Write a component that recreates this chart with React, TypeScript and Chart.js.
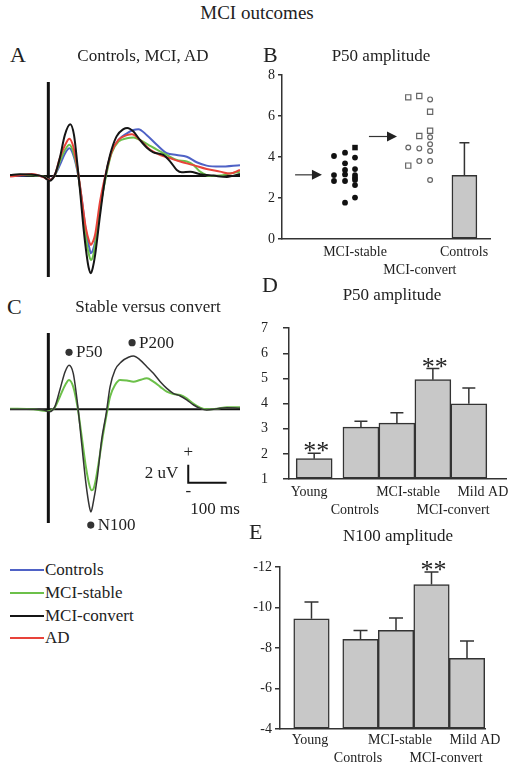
import React, { useEffect, useRef } from "react";
import { Chart, registerables } from "chart.js";
Chart.register(...registerables);

const SERIF = "'Liberation Serif', 'Times New Roman', serif";
const INK = "#222";
const AXIS = "#333";
const BAR_FILL = "#c8c8c8";
const BLUE = "#4f62c6";
const GREEN = "#6cc04a";
const BLACK = "#151515";
const RED = "#e8433a";

// ---------- Panel A: grand averages (time ms, amplitude uV) ----------
const aControlsT = [-100, -74, -39, -13, 3, 17, 30, 44, 55, 65, 76, 87, 98, 107, 111, 116, 122, 135, 151, 165, 183, 205, 222, 235, 257, 283, 309, 335, 361, 387, 413, 448, 500];
const aControlsV = [0.08, 0.03, 0.08, -0.08, -0.33, 0.08, 0.9, 1.9, 2.3, 1.75, 0.36, -1.86, -4.6, -6.0, -6.45, -6.2, -5.5, -2.7, 0.2, 2.0, 3.0, 3.55, 3.83, 3.9, 3.4, 2.6, 1.9, 1.75, 1.6, 1.14, 0.86, 0.78, 0.9];
const aStableT = [-100, -74, -39, -13, 3, 17, 30, 44, 55, 65, 76, 87, 98, 107, 111, 116, 122, 135, 151, 165, 183, 205, 222, 239, 261, 283, 309, 335, 361, 379, 396, 422, 448, 474, 500];
const aStableV = [0.05, 0.1, 0.05, -0.05, -0.35, 0.05, 1.2, 2.2, 2.6, 2.0, 0.5, -2.1, -5.2, -6.7, -7.0, -6.75, -5.75, -2.7, 0.08, 1.9, 2.86, 3.14, 3.2, 3.0, 2.6, 2.2, 1.75, 1.33, 1.2, 0.9, 0.36, 0.0, 0.03, 0.2, 0.36];
const aConvertT = [-100, -74, -39, -13, 3, 17, 30, 43, 57, 67, 76, 83, 91, 100, 105, 111, 116, 122, 135, 148, 161, 178, 196, 206, 222, 239, 257, 274, 300, 318, 335, 348, 370, 396, 431, 466, 500];
const aConvertV = [0.08, 0.14, 0.1, -0.05, -0.4, 0.1, 1.5, 3.4, 4.3, 3.4, 0.9, -1.3, -4.1, -6.6, -7.6, -8.1, -7.65, -6.6, -3.25, -0.2, 1.75, 3.3, 3.9, 4.0, 3.7, 3.0, 2.36, 1.97, 1.75, 1.2, 0.5, 0.3, 0.36, 0.14, 0.03, -0.08, 0.17];
const aADT = [-100, -74, -43, -13, 3, 17, 30, 44, 55, 65, 76, 87, 98, 107, 111, 116, 122, 135, 151, 165, 183, 205, 218, 239, 265, 292, 318, 344, 379, 413, 448, 474, 500];
const aADV = [-0.05, 0.05, 0.17, -0.1, -0.33, 0.1, 1.5, 2.6, 3.1, 2.45, 0.64, -1.86, -4.36, -5.5, -5.75, -5.5, -4.9, -2.1, 0.36, 2.0, 3.0, 3.4, 3.47, 3.0, 2.2, 1.75, 1.47, 1.2, 0.9, 0.58, 0.36, 0.2, 0.5];

// ---------- Panel C: stable vs convert ----------
const cConvertT = [-100, -39, -13, 3, 17, 30, 44, 54, 65, 76, 87, 98, 107, 111, 117, 128, 139, 151, 161, 174, 191, 209, 222, 239, 257, 274, 292, 309, 326, 344, 361, 379, 396, 413, 440, 466, 500];
const cConvertV = [0, 0, -0.07, -0.26, 0.3, 2.15, 4.2, 4.9, 4.0, 0.67, -3.8, -8.2, -10.8, -11.4, -10.4, -7.5, -3.4, -0.44, 2.5, 4.37, 5.3, 5.78, 5.93, 5.5, 4.74, 4.0, 3.07, 2.33, 1.78, 1.48, 1.04, 0.48, 0.11, -0.07, 0.07, 0.18, 0.11];
const cStableT = [-100, -39, -13, 3, 17, 30, 44, 54, 65, 76, 87, 98, 107, 113, 118, 122, 131, 142, 151, 161, 174, 187, 205, 222, 239, 257, 274, 292, 309, 326, 344, 361, 379, 396, 413, 440, 466, 500];
const cStableV = [0.07, 0, -0.15, -0.19, 0.22, 1.4, 2.7, 3.26, 2.5, 0.3, -3.0, -6.4, -8.4, -9.0, -8.8, -8.2, -6.0, -3.0, -0.8, 1.4, 2.7, 3.26, 3.2, 3.07, 3.26, 3.44, 3.07, 2.5, 1.96, 1.7, 1.6, 1.22, 0.6, 0.18, 0, 0.07, 0.22, 0.22];
const cPeakNames = ["P50", "P200", "N100"];
const cPeakT = [54, 218.5, 110.7];
const cPeakV = [6.33, 7.4, -12.86];
const scaleBarT = 365;
const scaleBarV = -8.16;
const scaleBarMs = 100;
const scaleBarUv = 2;

// ---------- Panel B: P50 amplitude, individual subjects ----------
const bStableColX = [2.5, 3.03, 3.51];
const bConvertColX = [6.07, 6.6, 7.12];
const bStableCircles = [[4.05, 3.12, 2.83], [4.21, 3.69, 3.37, 3.15, 2.83, 1.77], [3.97, 3.41, 3.12, 2.99, 2.88, 2.63, 2.02]];
const bStableSquares = [[], [], [4.46]];
const bConvertSquares = [[6.91, 3.58], [6.98, 5.02], [6.21, 5.28]];
const bConvertCircles = [[4.46], [4.42, 3.8], [6.81, 4.96, 4.62, 4.29, 3.8, 2.88]];
const bControlsX = 8.77;
const bControlsMean = 3.1;
const bControlsErr = 4.7;
const bLabels = ["MCI-stable", "MCI-convert", "Controls"];
const bLabelX = [3.51, 6.63, 8.75];
const bLabelRow = [0, 1, 0];
const bArrowStart = [0.63, 4.18];
const bArrowEnd = [1.92, 5.53];
const bArrowLevel = [3.13, 5.0];

// ---------- Panels D & E ----------
const groups = ["Young", "Controls", "MCI-stable", "MCI-convert", "Mild AD"];
const groupRow = [0, 1, 0, 1, 0];
const dSlot = [0.7, 2, 3, 4, 5];
const dLabelSlot = [0.56, 1.83, 3.31, 4.56, 5.39];
const dMean = [1.81, 3.06, 3.22, 4.95, 3.99];
const dErr = [2.02, 3.3, 3.63, 5.39, 4.62];
const dSig = [true, false, false, true, false];
const eSlot = [0.887, 2.268, 3.268, 4.268, 5.268];
const eLabelSlot = [0.845, 2.197, 3.38, 4.676, 5.493];
const eMean = [-9.45, -8.43, -8.87, -11.14, -7.49];
const eErr = [-10.27, -8.87, -9.49, -11.76, -8.35];
const eSig = [false, false, false, true, false];

const xy = (t: number[], v: number[]) => t.map((x, i) => ({ x, y: v[i] }));
const cols = (xs: number[], ys: number[][]) => ys.flatMap((c, i) => c.map((y) => ({ x: xs[i], y })));

function lineDs(t: number[], v: number[], color: string, width: number, order: number) {
  return {
    type: "line",
    data: xy(t, v),
    borderColor: color,
    borderWidth: width,
    pointRadius: 0,
    cubicInterpolationMode: "monotone",
    fill: false,
    order,
  };
}

function erpAxes(axisBottom: number | null) {
  return {
    id: "erpAxes",
    beforeDatasetsDraw(chart: any) {
      const { ctx, chartArea } = chart;
      const x = chart.scales.x;
      const y = chart.scales.y;
      ctx.save();
      ctx.strokeStyle = "#111";
      ctx.lineWidth = 2;
      ctx.beginPath();
      ctx.moveTo(x.getPixelForValue(x.min), y.getPixelForValue(0));
      ctx.lineTo(x.getPixelForValue(x.max), y.getPixelForValue(0));
      ctx.stroke();
      ctx.lineWidth = 3;
      ctx.beginPath();
      ctx.moveTo(x.getPixelForValue(0), chartArea.top);
      ctx.lineTo(x.getPixelForValue(0), axisBottom === null ? chartArea.bottom : y.getPixelForValue(axisBottom));
      ctx.stroke();
      ctx.restore();
    },
  };
}

const cAnnotations = {
  id: "cAnn",
  afterDatasetsDraw(chart: any) {
    const { ctx } = chart;
    const x = chart.scales.x;
    const y = chart.scales.y;
    ctx.save();
    ctx.font = `17px ${SERIF}`;
    ctx.fillStyle = INK;
    ctx.textBaseline = "middle";
    cPeakNames.forEach((name, i) => {
      const px = x.getPixelForValue(cPeakT[i]);
      const py = y.getPixelForValue(cPeakV[i]);
      ctx.beginPath();
      ctx.arc(px, py, 3.6, 0, Math.PI * 2);
      ctx.fillStyle = "#333";
      ctx.fill();
      ctx.fillStyle = INK;
      ctx.textAlign = "left";
      ctx.fillText(name, px + 7, py + 0.5);
    });
    const x0 = x.getPixelForValue(scaleBarT);
    const x1 = x.getPixelForValue(scaleBarT + scaleBarMs);
    const y0 = y.getPixelForValue(scaleBarV);
    const y1 = y.getPixelForValue(scaleBarV + scaleBarUv);
    ctx.strokeStyle = "#111";
    ctx.lineWidth = 2;
    ctx.beginPath();
    ctx.moveTo(x0, y1);
    ctx.lineTo(x0, y0);
    ctx.lineTo(x1, y0);
    ctx.stroke();
    ctx.textAlign = "center";
    ctx.fillText("+", x0, y1 - 12);
    ctx.fillText("-", x0, y0 + 9);
    ctx.textAlign = "right";
    ctx.fillText("2 uV", x0 - 10, (y0 + y1) / 2);
    ctx.textAlign = "left";
    ctx.fillText("100 ms", x0 + 2, y0 + 27);
    ctx.restore();
  },
};

const bArrows = {
  id: "bArrows",
  afterDatasetsDraw(chart: any) {
    const { ctx } = chart;
    const x = chart.scales.x;
    const y = chart.scales.y;
    ctx.save();
    ctx.strokeStyle = "#333";
    ctx.fillStyle = "#222";
    ctx.lineWidth = 1.2;
    bArrowStart.forEach((s, i) => {
      const xs = x.getPixelForValue(s);
      const xe = x.getPixelForValue(bArrowEnd[i]);
      const py = y.getPixelForValue(bArrowLevel[i]);
      ctx.beginPath();
      ctx.moveTo(xs, py);
      ctx.lineTo(xe - 8, py);
      ctx.stroke();
      ctx.beginPath();
      ctx.moveTo(xe, py);
      ctx.lineTo(xe - 10, py - 5);
      ctx.lineTo(xe - 10, py + 5);
      ctx.closePath();
      ctx.fill();
    });
    ctx.restore();
  },
};

function errorBars(id: string, tops: number[], sig: boolean[], capHalf: number) {
  return {
    id,
    afterDatasetsDraw(chart: any) {
      const { ctx } = chart;
      const ys = chart.scales.y;
      let meta: any = null;
      chart.data.datasets.forEach((d: any, i: number) => {
        if (d.type === "bar" || (!d.type && chart.config.type === "bar")) meta = chart.getDatasetMeta(i);
      });
      if (!meta) return;
      ctx.save();
      meta.data.forEach((bar: any, i: number) => {
        const bx = bar.x;
        const y0 = bar.y;
        const y1 = ys.getPixelForValue(tops[i]);
        ctx.strokeStyle = AXIS;
        ctx.lineWidth = 1.5;
        ctx.beginPath();
        ctx.moveTo(bx, y0);
        ctx.lineTo(bx, y1);
        ctx.moveTo(bx - capHalf, y1);
        ctx.lineTo(bx + capHalf, y1);
        ctx.stroke();
        if (sig[i]) {
          ctx.fillStyle = INK;
          ctx.font = `26px ${SERIF}`;
          ctx.textAlign = "center";
          ctx.textBaseline = "alphabetic";
          ctx.fillText("**", bx + 2, y1 + 6);
        }
      });
      ctx.restore();
    },
  };
}

const tickFont = { family: SERIF, size: 14, lineHeight: 1.3 };

function yAxis(min: number, max: number, step: number, width: number, tickLen: number, pad: number, reverse = false) {
  return {
    min,
    max,
    reverse,
    ticks: { stepSize: step, padding: pad, color: INK, font: tickFont },
    grid: { display: true, drawOnChartArea: false, drawTicks: true, tickLength: tickLen, color: AXIS, lineWidth: 1.5 },
    border: { display: true, color: AXIS, width: 1.5 },
    afterFit: (s: any) => {
      s.width = width;
    },
  };
}

function xLabelAxis(max: number, slots: number[], labels: string[], rows: number[], height: number, pad: number) {
  return {
    type: "linear",
    min: 0,
    max,
    offset: false,
    afterBuildTicks: (s: any) => {
      s.ticks = slots.map((value) => ({ value }));
    },
    ticks: {
      autoSkip: false,
      maxRotation: 0,
      minRotation: 0,
      padding: pad,
      color: INK,
      font: tickFont,
      callback: (_v: any, i: number) => (rows[i] ? ["", labels[i]] : labels[i]),
    },
    grid: { display: false, drawTicks: false, offset: false },
    border: { display: true, color: AXIS, width: 1.5 },
    afterFit: (s: any) => {
      s.height = height;
    },
  };
}

const baseOptions = {
  responsive: false,
  animation: false,
  events: [],
  plugins: { legend: { display: false }, tooltip: { enabled: false } },
};

function Txt({ x, y, size, align = "left", children }: any) {
  const lh = size * 1.2;
  const style: React.CSSProperties = {
    position: "absolute",
    top: y - lh / 2,
    fontSize: size,
    lineHeight: `${lh}px`,
    whiteSpace: "nowrap",
  };
  if (align === "center") {
    style.left = x - 150;
    style.width = 300;
    style.textAlign = "center";
  } else {
    style.left = x;
  }
  return <div style={style}>{children}</div>;
}

const legendNames = ["Controls", "MCI-stable", "MCI-convert", "AD"];
const legendColors = [BLUE, GREEN, BLACK, RED];
const legendY = [570, 592.7, 616, 637.7];

export default function App() {
  const refA = useRef<HTMLCanvasElement>(null);
  const refB = useRef<HTMLCanvasElement>(null);
  const refC = useRef<HTMLCanvasElement>(null);
  const refD = useRef<HTMLCanvasElement>(null);
  const refE = useRef<HTMLCanvasElement>(null);

  useEffect(() => {
    const charts: Chart[] = [];

    charts.push(
      new Chart(refA.current as HTMLCanvasElement, {
        type: "line",
        data: {
          datasets: [
            lineDs(aConvertT, aConvertV, BLACK, 2, 0),
            lineDs(aADT, aADV, RED, 2, 1),
            lineDs(aStableT, aStableV, GREEN, 2, 2),
            lineDs(aControlsT, aControlsV, BLUE, 2, 3),
          ] as any,
        },
        options: {
          ...baseOptions,
          layout: { padding: { left: 10, right: 10, top: 10, bottom: 10 } },
          scales: {
            x: { type: "linear", min: -100, max: 500, display: false },
            y: { min: -8.42, max: 7.83, display: false },
          },
        } as any,
        plugins: [erpAxes(null)],
      })
    );

    charts.push(
      new Chart(refC.current as HTMLCanvasElement, {
        type: "line",
        data: {
          datasets: [lineDs(cConvertT, cConvertV, "#333", 1.5, 0), lineDs(cStableT, cStableV, GREEN, 2, 1)] as any,
        },
        options: {
          ...baseOptions,
          layout: { padding: { left: 10, right: 10, top: 10, bottom: 5 } },
          scales: {
            x: { type: "linear", min: -100, max: 500, display: false },
            y: { min: -13.74, max: 8.48, display: false },
          },
        } as any,
        plugins: [erpAxes(-12.63), cAnnotations],
      })
    );

    charts.push(
      new Chart(refB.current as HTMLCanvasElement, {
        type: "scatter",
        data: {
          datasets: [
            {
              data: cols(bStableColX, bStableCircles),
              pointStyle: "circle",
              pointRadius: 2.9,
              pointBackgroundColor: "#111",
              pointBorderWidth: 0,
            },
            {
              data: cols(bStableColX, bStableSquares),
              pointStyle: "rect",
              pointRadius: 3.9,
              pointBackgroundColor: "#111",
              pointBorderWidth: 0,
            },
            {
              data: cols(bConvertColX, bConvertSquares),
              pointStyle: "rect",
              pointRadius: 3.7,
              pointBackgroundColor: "#fff",
              pointBorderColor: "#666",
              pointBorderWidth: 1.2,
            },
            {
              data: cols(bConvertColX, bConvertCircles),
              pointStyle: "circle",
              pointRadius: 2.4,
              pointBackgroundColor: "#fff",
              pointBorderColor: "#666",
              pointBorderWidth: 1.2,
            },
            {
              type: "bar",
              data: [{ x: bControlsX, y: bControlsMean }],
              base: 0,
              barThickness: 25,
              backgroundColor: BAR_FILL,
              borderColor: AXIS,
              borderWidth: 1.5,
              borderSkipped: false,
            },
          ] as any,
        },
        options: {
          ...baseOptions,
          layout: { padding: { left: 0, right: 12, top: 13, bottom: 0 } },
          scales: {
            x: xLabelAxis(10, bLabelX, bLabels, bLabelRow, 43, 4),
            y: yAxis(0, 8, 2, 42, 4, 3),
          },
        } as any,
        plugins: [errorBars("bErr", [bControlsErr], [false], 5), bArrows],
      })
    );

    charts.push(
      new Chart(refD.current as HTMLCanvasElement, {
        type: "bar",
        data: {
          datasets: [
            {
              data: xy(dSlot, dMean),
              base: 1,
              barThickness: 36,
              backgroundColor: BAR_FILL,
              borderColor: AXIS,
              borderWidth: 1.5,
              borderSkipped: false,
            },
          ] as any,
        },
        options: {
          ...baseOptions,
          layout: { padding: { left: 0, right: 6, top: 10, bottom: 0 } },
          scales: {
            x: xLabelAxis(6.06, dLabelSlot, groups, groupRow, 49, 4),
            y: yAxis(1, 7, 1, 49, 6, 15),
          },
        } as any,
        plugins: [errorBars("dErr", dErr, dSig, 6.5)],
      })
    );

    charts.push(
      new Chart(refE.current as HTMLCanvasElement, {
        type: "bar",
        data: {
          datasets: [
            {
              data: xy(eSlot, eMean),
              base: -4,
              barThickness: 35.5,
              backgroundColor: BAR_FILL,
              borderColor: AXIS,
              borderWidth: 1.5,
              borderSkipped: false,
            },
          ] as any,
        },
        options: {
          ...baseOptions,
          layout: { padding: { left: 0, right: 28, top: 10, bottom: 0 } },
          scales: {
            x: xLabelAxis(5.775, eLabelSlot, groups, groupRow, 42, 2),
            y: yAxis(-12, -4, 2, 40, 5, 3, true),
          },
        } as any,
        plugins: [errorBars("eErr", eErr, eSig, 7)],
      })
    );

    return () => charts.forEach((c) => c.destroy());
  }, []);

  return (
    <div
      style={{
        position: "absolute",
        left: 0,
        top: 0,
        width: 513,
        height: 771,
        background: "#fff",
        overflow: "hidden",
        fontFamily: SERIF,
        color: INK,
      }}
    >
      <canvas ref={refA} width={250} height={215} style={{ position: "absolute", left: 0, top: 72 }} />
      <canvas ref={refC} width={250} height={215} style={{ position: "absolute", left: 0, top: 323 }} />
      <canvas ref={refB} width={262} height={220} style={{ position: "absolute", left: 240, top: 62 }} />
      <canvas ref={refD} width={273} height={224} style={{ position: "absolute", left: 240, top: 304 }} />
      <canvas ref={refE} width={273} height={216} style={{ position: "absolute", left: 240, top: 555 }} />

      <Txt x={257} y={13} size={19} align="center">MCI outcomes</Txt>
      <Txt x={10} y={55} size={22}>A</Txt>
      <Txt x={143} y={56} size={17} align="center">Controls, MCI, AD</Txt>
      <Txt x={263} y={55} size={22}>B</Txt>
      <Txt x={381} y={56} size={17} align="center">P50 amplitude</Txt>
      <Txt x={7} y={307} size={22}>C</Txt>
      <Txt x={148} y={307} size={17} align="center">Stable versus convert</Txt>
      <Txt x={262} y={285} size={22}>D</Txt>
      <Txt x={392} y={295} size={17} align="center">P50 amplitude</Txt>
      <Txt x={249} y={532} size={22}>E</Txt>
      <Txt x={398} y={536} size={17} align="center">N100 amplitude</Txt>

      {legendNames.map((name, i) => (
        <React.Fragment key={name}>
          <div
            style={{
              position: "absolute",
              left: 10,
              top: legendY[i] - 1,
              width: 34,
              height: 2,
              background: legendColors[i],
            }}
          />
          <Txt x={45} y={legendY[i]} size={17}>
            {name}
          </Txt>
        </React.Fragment>
      ))}
    </div>
  );
}
